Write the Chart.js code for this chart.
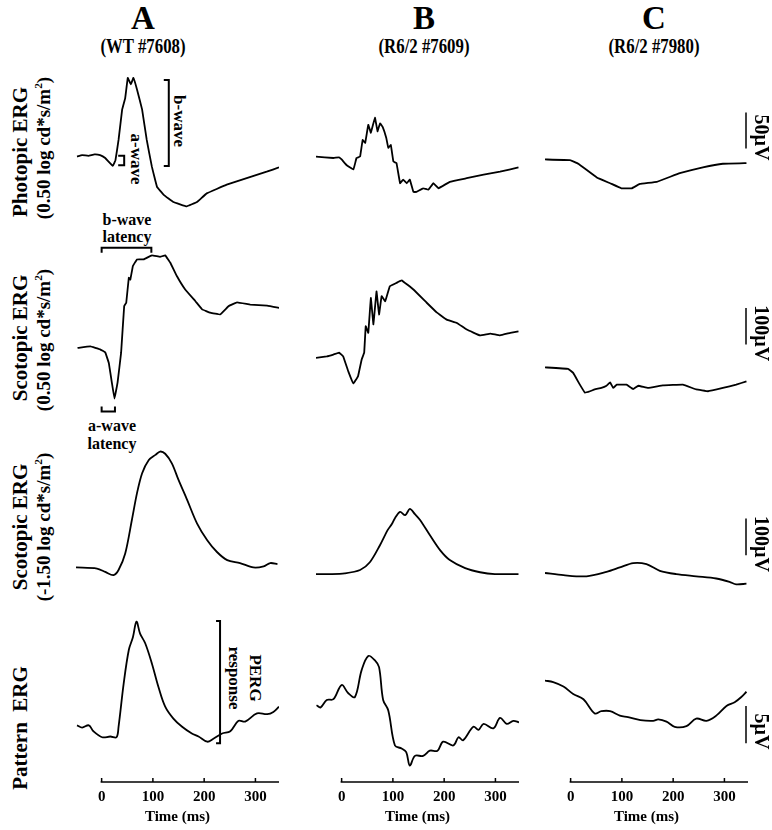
<!DOCTYPE html>
<html><head><meta charset="utf-8">
<script src="https://cdn.jsdelivr.net/npm/chart.js@4"></script>
<style>
body{margin:0;background:#fff;width:772px;height:830px;position:relative;overflow:hidden;font-family:"Liberation Serif","Times New Roman",serif;font-weight:bold;color:#000}
canvas{position:absolute}
.t{position:absolute;white-space:nowrap;line-height:1;transform:translate(-50%,-50%)}
.h{transform:translate(-50%,-50%) scaleX(0.8)}
.r{transform:translate(-50%,-50%) rotate(-90deg)}
.c{transform:translate(-50%,-50%) rotate(90deg)}
sup{font-size:0.6em;vertical-align:0.7em;line-height:0}
</style></head><body>
<div class="t" style="left:143px;top:18px;font-size:33px">A</div>
<div class="t h" style="left:143px;top:46px;font-size:21px">(WT #7608)</div>
<div class="t" style="left:424px;top:18px;font-size:33px">B</div>
<div class="t h" style="left:424px;top:46px;font-size:21px">(R6/2 #7609)</div>
<div class="t" style="left:654px;top:18px;font-size:33px">C</div>
<div class="t h" style="left:654px;top:46px;font-size:21px">(R6/2 #7980)</div>

<div class="t r" style="left:20px;top:152px;font-size:21px">Photopic ERG</div>
<div class="t r" style="left:43px;top:148px;font-size:19px">(0.50 log cd*s/m<sup>2</sup>)</div>
<div class="t r" style="left:20px;top:338px;font-size:21px">Scotopic ERG</div>
<div class="t r" style="left:43px;top:340px;font-size:19px">(0.50 log cd*s/m<sup>2</sup>)</div>
<div class="t r" style="left:20px;top:527px;font-size:21px">Scotopic ERG</div>
<div class="t r" style="left:43px;top:527px;font-size:19px">(-1.50 log cd*s/m<sup>2</sup>)</div>
<div class="t r" style="left:20px;top:728px;font-size:21px">Pattern&nbsp;&nbsp;ERG</div>

<div class="t c" style="left:179px;top:121px;font-size:17px">b-wave</div>
<div class="t c" style="left:136px;top:159px;font-size:17px">a-wave</div>
<div class="t" style="left:127px;top:220px;font-size:16px">b-wave</div>
<div class="t" style="left:127px;top:237px;font-size:16px">latency</div>
<div class="t" style="left:112px;top:426px;font-size:16px">a-wave</div>
<div class="t" style="left:112px;top:444px;font-size:16px">latency</div>
<div class="t c" style="left:255px;top:678px;font-size:17px">PERG</div>
<div class="t c" style="left:234px;top:678px;font-size:17px">response</div>

<script>
// ---- data: time (ms) and amplitude (µV) ----
const xTicks = [0, 100, 200, 300];

const photopicA_t = [-48,-38,-26,-14,-3,7,22,27,33,40,46,51,57,62,69,79,88,98,108,121,140,166,186,205,244,283,322,346];
const photopicA_v = [-1,1,0,2,1,-3,-14,-6,22,64,80,108,99,108,92,64,22,-15,-43,-54,-64,-70,-64,-52,-40,-31,-22,-16];
const photopicB_t = [-50,-16,-5,0,10,23,29,36,41,46,52,57,65,70,75,80,87,91,96,101,107,114,120,127,133,140,146,159,169,179,189,211,244,277,309,345];
const photopicB_v = [-1,-3,-2,-5,-13,-19,-3,-1,22,18,43,32,53,34,45,40,25,11,15,-8,-10,-38,-33,-38,-33,-50,-50,-45,-47,-38,-45,-36,-31,-26,-22,-16];
const photopicC_t = [-50,-1,15,51,77,99,119,135,168,213,258,297,343];
const photopicC_v = [-5,-6,-11,-30,-38,-45,-45,-39,-36,-24,-16,-11,-10];

const scotHiA_t = [-47,-22,-3,7,14,20,25,31,38,44,48,53,56,61,69,82,98,114,124,134,147,163,183,196,212,231,248,264,290,323,346];
const scotHiA_v = [-1,3,-5,-13,-42,-96,-139,-96,-14,113,122,190,185,222,240,240,251,247,251,231,194,158,126,104,95,90,113,123,117,114,108];
const scotHiB_t = [-50,-29,-16,-5,3,13,23,32,39,44,47,52,57,62,68,73,78,85,94,107,117,140,166,186,205,225,244,270,290,309,329,345];
const scotHiB_v = [-28,-24,-19,-14,-24,-65,-98,-78,-33,-14,58,40,135,63,153,90,140,126,167,176,183,158,122,95,76,67,49,33,38,33,40,44];
const scotHiC_t = [-50,-5,5,18,28,38,47,60,70,77,83,90,109,122,132,151,180,219,245,268,297,323,343];
const scotHiC_v = [-54,-58,-69,-101,-123,-119,-114,-110,-104,-95,-110,-101,-101,-113,-104,-110,-103,-101,-114,-119,-110,-101,-92];

const scotLoA_t = [-50,-9,7,23,33,46,59,69,79,92,105,114,124,137,150,167,186,206,225,245,270,296,316,329,343];
const scotLoA_v = [2,-1,-10,-19,-5,40,131,204,258,294,308,317,311,285,240,185,122,76,44,22,14,2,5,14,11];
const scotLoB_t = [-50,-23,6,36,55,75,90,98,104,114,124,133,143,153,172,192,211,241,270,299,345];
const scotLoB_v = [-16,-16,-14,-5,16,63,104,120,136,153,144,161,147,131,90,49,22,0,-11,-16,-16];
const scotLoC_t = [-50,-14,31,70,96,122,148,174,206,245,284,310,323,343];
const scotLoC_v = [-13,-19,-22,-10,2,14,11,-7,-16,-22,-28,-37,-44,-42];

const patternA_t = [-48,-38,-25,-16,1,17,29,33,43,53,61,68,75,85,98,111,124,140,157,176,189,206,218,235,251,267,280,303,323,335,346];
const patternA_v = [1.6,1.3,1.6,0.8,0.0,0.1,0.0,1.4,7.2,11.7,13.4,15.5,13.9,12.6,9.9,6.7,4.1,2.5,1.4,0.5,0.1,-0.6,-0.2,0.5,0.8,2.2,2.1,3.2,3.1,3.4,4.1];
const patternB_t = [-49,-41,-29,-16,0,13,26,39,52,65,73,81,91,104,117,126,133,143,159,172,187,198,218,228,237,257,267,277,296,309,322,335,346];
const patternB_v = [4.3,4.0,5.0,5.1,7.0,5.9,5.4,9.0,10.9,10.3,9.4,5.0,3.6,-1.1,-1.5,-2.0,-3.8,-2.5,-2.5,-1.8,-1.8,-0.6,-1.1,0.0,-0.4,1.4,1.0,1.8,1.2,2.6,1.8,2.2,2.0];
const patternC_t = [-50,-34,-14,5,25,47,60,77,96,112,136,161,171,187,203,226,245,265,284,304,320,333,343];
const patternC_v = [7.6,7.4,6.8,5.8,5.1,3.2,3.5,3.5,2.9,2.7,2.3,2.2,2.4,2.1,1.4,1.5,2.5,2.2,2.9,4.2,4.7,5.4,6.1];

// ---- layout ----
const FONT = '"Liberation Serif","Times New Roman",serif';
Chart.defaults.font.family = FONT;
const colLeft = [76, 316, 545];
const colW = 203;
const rows = [
  {top:62,  h:166, ymin:-100, ymax:130, tension:0.05},
  {top:219, h:202, ymin:-200, ymax:350, tension:0.05},
  {top:421, h:184, ymin:-100, ymax:400, tension:0.3},
  {top:603, h:179, ymin:-6,   ymax:18,  tension:0.35, axis:true}
];

const annot = {
  id:'annot',
  afterDatasetsDraw(chart, args, opts){
    const ctx = chart.ctx, a = chart.chartArea, x = chart.scales.x, y = chart.scales.y;
    (opts.items||[]).forEach(it=>{
      ctx.save();
      ctx.strokeStyle='#000'; ctx.fillStyle='#000'; ctx.lineWidth=2;
      if(it.type==='vbracket'){
        const px=x.getPixelForValue(it.x), p1=y.getPixelForValue(it.y1), p2=y.getPixelForValue(it.y2);
        ctx.beginPath(); ctx.moveTo(px-it.tick,p1); ctx.lineTo(px,p1); ctx.lineTo(px,p2); ctx.lineTo(px-it.tick,p2); ctx.stroke();
      } else if(it.type==='hbracket'){
        const py=y.getPixelForValue(it.y), q1=x.getPixelForValue(it.x1), q2=x.getPixelForValue(it.x2);
        ctx.beginPath(); ctx.moveTo(q1,py+it.tick); ctx.lineTo(q1,py); ctx.lineTo(q2,py); ctx.lineTo(q2,py+it.tick); ctx.stroke();
      } else if(it.type==='scalebar'){
        const px=a.right-2, p1=y.getPixelForValue(it.y1), p2=y.getPixelForValue(it.y2);
        ctx.lineWidth=1.5; ctx.beginPath(); ctx.moveTo(px,p1); ctx.lineTo(px,p2); ctx.stroke();
        ctx.translate(a.right+12,(p1+p2)/2+7); ctx.rotate(Math.PI/2);
        ctx.font='bold 20px '+FONT; ctx.textAlign='center'; ctx.textBaseline='middle';
        ctx.fillText(it.label,0,0);
      } else if(it.type==='axis'){
        const b=a.bottom; ctx.lineWidth=1.5;
        ctx.beginPath(); ctx.moveTo(x.getPixelForValue(0)-1,b); ctx.lineTo(a.right,b); ctx.stroke();
        xTicks.forEach(v=>{const px=x.getPixelForValue(v); ctx.beginPath(); ctx.moveTo(px,b); ctx.lineTo(px,b-4); ctx.stroke();});
      }
      ctx.restore();
    });
  }
};
Chart.register(annot);

function makeChart(col, r, t, v, items){
  const row = rows[r];
  const extra = col===2 ? 24 : 0;
  const axisH = row.axis ? 48 : 0;
  const cv = document.createElement('canvas');
  cv.width = colW + extra; cv.height = row.h + axisH;
  cv.style.left = colLeft[col]+'px'; cv.style.top = row.top+'px';
  document.body.appendChild(cv);
  const its = (items||[]).slice();
  if(row.axis) its.push({type:'axis'});
  const xScale = {type:'linear', min:-50, max:346, display:false};
  if(row.axis){
    Object.assign(xScale, {
      display:true, position:'bottom',
      border:{display:false}, grid:{display:false, drawTicks:false},
      afterBuildTicks: s => { s.ticks = xTicks.map(val=>({value:val})); },
      afterFit: s => { s.height = axisH; },
      ticks:{color:'#000', padding:6, maxRotation:0, autoSkip:false, font:{family:FONT, size:15, weight:'bold'}},
      title:{display:true, text:'Time (ms)', color:'#000', font:{family:FONT, size:15, weight:'bold'}, padding:{top:0,bottom:4}}
    });
  }
  new Chart(cv, {
    type:'line',
    data:{datasets:[{data:t.map((tt,i)=>({x:tt,y:v[i]})), borderColor:'#000', borderWidth:1.8, pointRadius:0, tension:row.tension, fill:false}]},
    options:{
      responsive:false, animation:false, devicePixelRatio:1, events:[],
      layout:{padding:{left:0, right:extra, top:0, bottom:0}},
      scales:{x:xScale, y:{type:'linear', min:row.ymin, max:row.ymax, display:false}},
      plugins:{legend:{display:false}, tooltip:{enabled:false}, annot:{items:its}}
    }
  });
}

makeChart(0,0,photopicA_t,photopicA_v,[
  {type:'vbracket', x:131, y1:-14, y2:105, tick:5},
  {type:'vbracket', x:44, y1:-13, y2:0, tick:6}
]);
makeChart(1,0,photopicB_t,photopicB_v);
makeChart(2,0,photopicC_t,photopicC_v,[{type:'scalebar', y1:10, y2:60, label:'50µV'}]);

makeChart(0,1,scotHiA_t,scotHiA_v,[
  {type:'hbracket', y:272, x1:0, x2:97, tick:5},
  {type:'hbracket', y:-174, x1:0, x2:26, tick:-5}
]);
makeChart(1,1,scotHiB_t,scotHiB_v);
makeChart(2,1,scotHiC_t,scotHiC_v,[{type:'scalebar', y1:8, y2:108, label:'100µV'}]);

makeChart(0,2,scotLoA_t,scotLoA_v);
makeChart(1,2,scotLoB_t,scotLoB_v);
makeChart(2,2,scotLoC_t,scotLoC_v,[{type:'scalebar', y1:35, y2:135, label:'100µV'}]);

makeChart(0,3,patternA_t,patternA_v,[{type:'vbracket', x:231, y1:-0.8, y2:15.6, tick:4}]);
makeChart(1,3,patternB_t,patternB_v);
makeChart(2,3,patternC_t,patternC_v,[{type:'scalebar', y1:-0.8, y2:4.2, label:'5µV'}]);
</script>
</body></html>
